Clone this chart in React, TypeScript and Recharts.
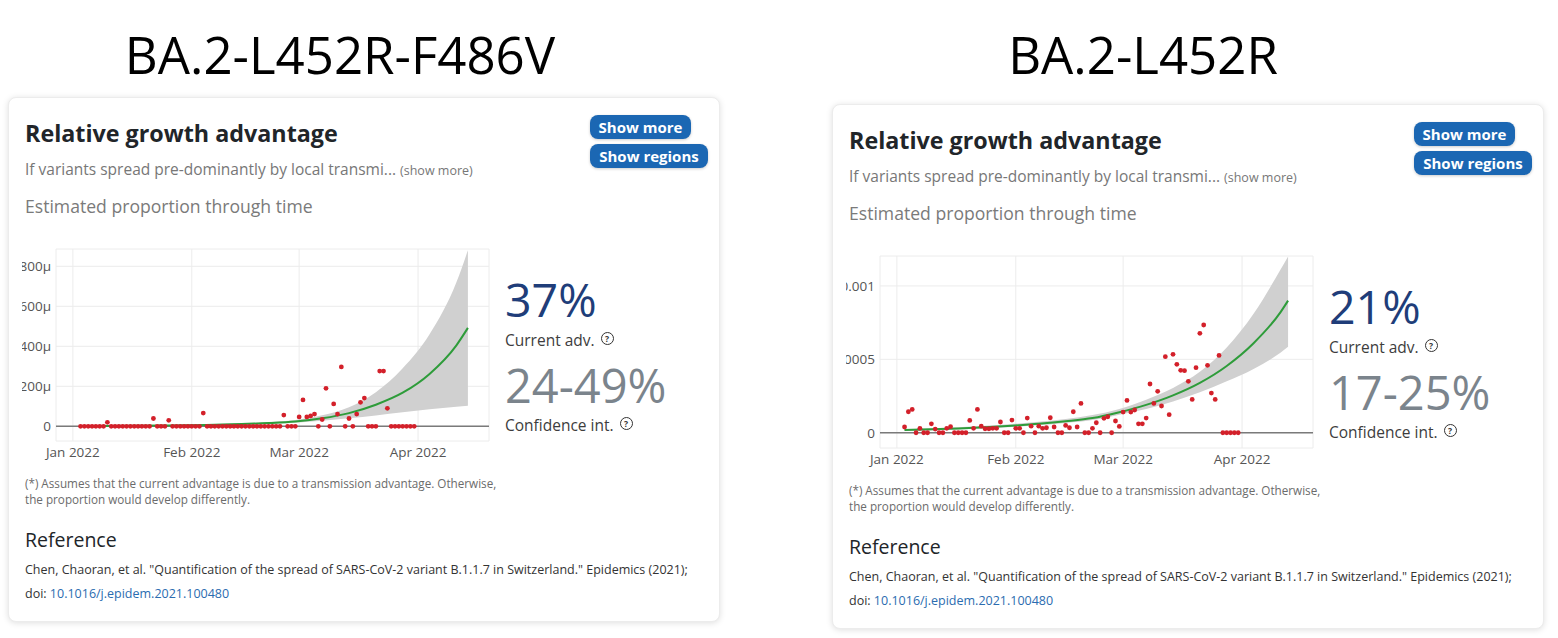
import React from "react";
import { ComposedChart, XAxis, YAxis, CartesianGrid, Area, Line, Scatter, ReferenceLine } from "recharts";

const FONT = "'Open Sans', 'Noto Sans', sans-serif";
const DAY_MS = 86400000;

// daily observations start on this date
const obsStart = "2022-01-03";

const monthTicks = ["2022-01-01", "2022-02-01", "2022-03-01", "2022-04-01"];
const monthLabels = ["Jan 2022", "Feb 2022", "Mar 2022", "Apr 2022"];

// BA.2-L452R-F486V, proportion per million, Jan 3 .. Mar 31
const obsF486V = [
  0, 0, 0, 0, 0, 0, 0,
  20, 0, 0, 0, 0, 0, 0,
  0, 0, 0, 0, 0, 39, 0,
  0, 0, 30, 0, 0, 0, 0,
  0, 0, 0, 0, 66, 0, 0,
  0, 0, 0, 0, 0, 0, 0,
  0, 0, 0, 0, 0, 0, 0,
  0, 0, 0, 0, 56, 0, 0,
  0, 47, 132, 47, 52, 61, 0,
  34, 190, 0, 112, 61, 297, 0,
  39, 0, 61, 120, 141, 0, 0,
  0, 276, 276, 90, 0, 0, 0,
  0, 0, 0, 0,
];
const fitDatesF486V = [
  "2022-01-03", "2022-01-10", "2022-01-17", "2022-01-24", "2022-01-31", "2022-02-07", "2022-02-14", "2022-02-21",
  "2022-02-28", "2022-03-07", "2022-03-14", "2022-03-21", "2022-03-28", "2022-04-04", "2022-04-11", "2022-04-14",
];
const fitF486V = [1, 1.5, 2.3, 3.5, 5, 7.5, 11, 16, 24, 40, 66, 108, 168, 262, 405, 492];
const lowF486V = [0.5, 0.8, 1.3, 2.2, 3.4, 5.2, 8, 12, 18, 28, 40, 54, 70, 85, 98, 103];
const highF486V = [2, 2.8, 4, 5.6, 7.5, 11, 16, 22, 32, 55, 95, 170, 290, 460, 720, 880];

// BA.2-L452R, proportion, Jan 3 .. Mar 31
const obsL452R = [
  0.39e-4, 1.43e-4, 1.59e-4, 0, 0.3e-4, 0, 0,
  0.61e-4, 0.25e-4, 0, 0, 0.3e-4, 0.41e-4, 0,
  0, 0, 0, 0.84e-4, 0.3e-4, 1.59e-4, 0.45e-4,
  0.27e-4, 0.27e-4, 0.3e-4, 0.3e-4, 0.73e-4, 0, 0,
  0.86e-4, 0.3e-4, 0.3e-4, 0, 1.0e-4, 0.45e-4, 0,
  0.45e-4, 0.3e-4, 0.34e-4, 1.02e-4, 0.39e-4, 0, 0,
  0.5e-4, 0.34e-4, 1.43e-4, 0.39e-4, 2.0e-4, 0, 0,
  0.3e-4, 0.68e-4, 0, 0.98e-4, 1.09e-4, 0, 0.8e-4,
  0.43e-4, 1.41e-4, 2.2e-4, 1.41e-4, 1.55e-4, 0.61e-4, 0.61e-4,
  1.0e-4, 3.32e-4, 2.0e-4, 2.82e-4, 1.82e-4, 5.18e-4, 1.23e-4,
  5.34e-4, 4.66e-4, 4.25e-4, 4.23e-4, 3.5e-4, 2.27e-4, 4.43e-4,
  6.77e-4, 7.34e-4, 4.59e-4, 2.7e-4, 2.27e-4, 5.27e-4, 0,
  0, 0, 0, 0,
];
const fitDatesL452R = [
  "2022-01-03", "2022-01-10", "2022-01-17", "2022-01-24", "2022-01-31", "2022-02-07", "2022-02-14", "2022-02-21",
  "2022-02-28", "2022-03-07", "2022-03-14", "2022-03-21", "2022-03-28", "2022-04-04", "2022-04-11", "2022-04-13",
];
const fitL452R = [0.18e-4, 0.23e-4, 0.29e-4, 0.37e-4, 0.48e-4, 0.61e-4, 0.78e-4, 1.0e-4, 1.4e-4, 1.9e-4, 2.55e-4, 3.4e-4, 4.55e-4, 6.1e-4, 8.2e-4, 9.0e-4];
const lowL452R = [0.12e-4, 0.16e-4, 0.22e-4, 0.29e-4, 0.39e-4, 0.51e-4, 0.66e-4, 0.86e-4, 1.22e-4, 1.62e-4, 2.12e-4, 2.75e-4, 3.5e-4, 4.35e-4, 5.45e-4, 5.85e-4];
const highL452R = [0.26e-4, 0.31e-4, 0.38e-4, 0.47e-4, 0.6e-4, 0.74e-4, 0.93e-4, 1.2e-4, 1.62e-4, 2.25e-4, 3.05e-4, 4.15e-4, 5.8e-4, 8.1e-4, 11.1e-4, 12.0e-4];

const xDomain = [Date.parse("2021-12-27T14:24Z"), Date.parse("2022-04-19T12:00Z")];
const xTicks = monthTicks.map((d) => Date.parse(d));

type ChartProps = {
  obs: number[];
  fitDates: string[];
  fit: number[];
  low: number[];
  high: number[];
  yDomain: number[];
  yTicks: number[];
  yFormat: (v: number) => string;
};

function GrowthChart({ obs, fitDates, fit, low, high, yDomain, yTicks, yFormat }: ChartProps) {
  const t0 = Date.parse(obsStart);
  const obsRows = obs.map((v, i) => ({ t: t0 + i * DAY_MS, v }));
  const fitRows = fitDates.map((d, i) => ({ t: Date.parse(d), v: fit[i] }));
  const bandRows = fitDates.map((d, i) => ({ t: Date.parse(d), band: [low[i], high[i]] }));
  const tickStyle = { fontSize: 13.5, fill: "#555", fontFamily: FONT };

  return (
    <ComposedChart width={480} height={225} margin={{ top: 8, right: 13, bottom: 0, left: 0 }}>
      <CartesianGrid stroke="#ececec" />
      <XAxis
        type="number"
        dataKey="t"
        domain={xDomain}
        ticks={xTicks}
        allowDataOverflow
        tickFormatter={(v: number) => monthLabels[xTicks.indexOf(v)] ?? ""}
        axisLine={false}
        tickLine={false}
        tickSize={4}
        tickMargin={2}
        height={25}
        tick={tickStyle}
      />
      <YAxis
        type="number"
        domain={yDomain}
        ticks={yTicks}
        allowDataOverflow
        tickFormatter={yFormat}
        axisLine={false}
        tickLine={false}
        tickSize={3}
        tickMargin={2}
        width={34}
        tick={tickStyle}
      />
      <ReferenceLine y={0} stroke="#7a7a7a" strokeWidth={1.6} />
      <Area data={bandRows} dataKey="band" type="monotone" fill="#d0d0d0" fillOpacity={1} stroke="none" isAnimationActive={false} />
      <Line data={fitRows} dataKey="v" type="monotone" stroke="#2e9c3a" strokeWidth={2} dot={false} isAnimationActive={false} />
      <Scatter
        data={obsRows}
        dataKey="v"
        isAnimationActive={false}
        shape={(p: any) => <circle cx={p.cx} cy={p.cy} r={2.4} fill="#d3202a" />}
      />
    </ComposedChart>
  );
}

// text placed by its baseline (Open Sans, line-height equal to font size)
function Txt({ x, base, size, color = "#222", weight = 400, center = false, children }: any) {
  return (
    <div
      style={{
        position: "absolute",
        left: x,
        top: base - 0.888 * size,
        fontSize: size,
        lineHeight: `${size}px`,
        fontWeight: weight,
        color,
        fontFamily: FONT,
        whiteSpace: "nowrap",
        transform: center ? "translateX(-50%)" : undefined,
      }}
    >
      {children}
    </div>
  );
}

function Help() {
  return (
    <span
      style={{
        display: "inline-block",
        width: 11,
        height: 11,
        border: "1.3px solid #333",
        borderRadius: "50%",
        fontSize: 8.5,
        lineHeight: "11px",
        textAlign: "center",
        fontWeight: 700,
        marginLeft: 6,
        position: "relative",
        top: -4,
        color: "#333",
      }}
    >
      ?
    </span>
  );
}

function Button({ x, y, w, label }: any) {
  return (
    <div
      style={{
        position: "absolute",
        left: x,
        top: y,
        width: w,
        height: 24,
        background: "#1b67b3",
        borderRadius: 8,
        color: "#fff",
        fontFamily: FONT,
        fontWeight: 700,
        fontSize: 15,
        lineHeight: "24px",
        textAlign: "center",
        boxShadow: "0 1px 3px rgba(0,0,0,0.2)",
      }}
    >
      {label}
    </div>
  );
}

function Card({ x, y, current, ci, chart }: any) {
  return (
    <div
      style={{
        position: "absolute",
        left: x,
        top: y,
        width: 712,
        height: 525,
        background: "#fff",
        borderRadius: 8,
        border: "1px solid #ececec",
        boxShadow: "0 1px 6px rgba(0,0,0,0.13)",
        boxSizing: "border-box",
      }}
    >
      <Txt x={16} base={44.5} size={23.3} weight={700} color="#212529">Relative growth advantage</Txt>
      <Txt x={16} base={78} size={15.5} color="#777">
        If variants spread pre-dominantly by local transmi...{" "}
        <span style={{ fontSize: 12.5 }}>(show more)</span>
      </Txt>
      <Txt x={16} base={115.5} size={17.6} color="#7a7a7a">Estimated proportion through time</Txt>
      <Button x={581} y={17} w={101} label="Show more" />
      <Button x={581} y={46} w={118} label="Show regions" />

      <div style={{ position: "absolute", left: 13, top: 143, width: 480, height: 225, overflow: "hidden" }}>
        {chart}
      </div>

      <Txt x={496} base={219.5} size={46.5} color="#203d79">{current}</Txt>
      <Txt x={496} base={248.5} size={15.5} color="#3d3d3d">Current adv.<Help /></Txt>
      <Txt x={496} base={306} size={47} color="#7b848c">{ci}</Txt>
      <Txt x={496} base={334} size={15.5} color="#3d3d3d">Confidence int.<Help /></Txt>

      <Txt x={16} base={390} size={11.7} color="#6b6b6b">
        (*) Assumes that the current advantage is due to a transmission advantage. Otherwise,
      </Txt>
      <Txt x={16} base={406} size={11.7} color="#6b6b6b">the proportion would develop differently.</Txt>
      <Txt x={16} base={449} size={19.5} color="#212529">Reference</Txt>
      <Txt x={16} base={477} size={12.5} color="#333">
        Chen, Chaoran, et al. "Quantification of the spread of SARS-CoV-2 variant B.1.1.7 in Switzerland." Epidemics (2021);
      </Txt>
      <Txt x={16} base={501} size={12.5} color="#333">
        doi: <span style={{ color: "#2b6cb0" }}>10.1016/j.epidem.2021.100480</span>
      </Txt>
    </div>
  );
}

export default function App() {
  return (
    <div style={{ position: "absolute", left: 0, top: 0, width: 1558, height: 638, background: "#fff", overflow: "hidden" }}>
      <Txt x={340} base={74} size={51} color="#000" center>BA.2-L452R-F486V</Txt>
      <Txt x={1143} base={74} size={51} color="#000" center>BA.2-L452R</Txt>
      <Card
        x={8}
        y={97}
        current="37%"
        ci="24-49%"
        chart={
          <GrowthChart
            obs={obsF486V}
            fitDates={fitDatesF486V}
            fit={fitF486V}
            low={lowF486V}
            high={highF486V}
            yDomain={[-73.5, 886.5]}
            yTicks={[0, 200, 400, 600, 800]}
            yFormat={(v) => (v === 0 ? "0" : `${v}μ`)}
          />
        }
      />
      <Card
        x={832}
        y={104}
        current="21%"
        ci="17-25%"
        chart={
          <GrowthChart
            obs={obsL452R}
            fitDates={fitDatesL452R}
            fit={fitL452R}
            low={lowL452R}
            high={highL452R}
            yDomain={[-0.000104, 0.001204]}
            yTicks={[0, 0.0005, 0.001]}
            yFormat={(v) => String(v)}
          />
        }
      />
    </div>
  );
}
